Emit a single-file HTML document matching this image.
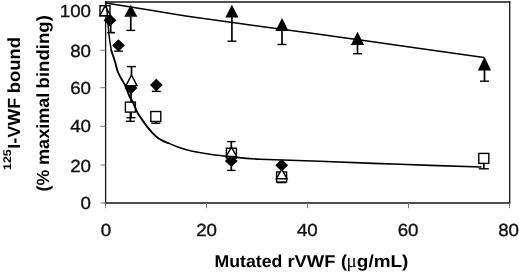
<!DOCTYPE html>
<html lang="en">
<head>
<meta charset="utf-8">
<title>Figure</title>
<style>
html,body{margin:0;padding:0;background:#fff;}
body{width:520px;height:272px;overflow:hidden;}
svg{display:block;}
</style>
</head>
<body>
<svg width="520" height="272" viewBox="0 0 520 272">
<rect width="520" height="272" fill="#fff"/>
<g fill="none" stroke="#151515">
<line x1="104.9" y1="2.0" x2="510.3" y2="2.0" stroke-width="1.6"/>
<line x1="104.9" y1="203.0" x2="510.3" y2="203.0" stroke-width="1.35"/>
<line x1="105.6" y1="1.2" x2="105.6" y2="203.7" stroke-width="1.3"/>
<line x1="509.7" y1="1.2" x2="509.7" y2="203.7" stroke-width="1.3"/>
</g>
<g fill="none" stroke="#777" stroke-width="1">
<line x1="100.3" y1="203.0" x2="105.5" y2="203.0"/>
<line x1="100.3" y1="165.0" x2="105.5" y2="165.0"/>
<line x1="100.3" y1="126.3" x2="105.5" y2="126.3"/>
<line x1="100.3" y1="87.7" x2="105.5" y2="87.7"/>
<line x1="100.3" y1="50.2" x2="105.5" y2="50.2"/>
<line x1="100.3" y1="11.0" x2="105.5" y2="11.0"/>
<line x1="105.5" y1="203.0" x2="105.5" y2="208.2"/>
<line x1="206.5" y1="203.0" x2="206.5" y2="208.2"/>
<line x1="307.5" y1="203.0" x2="307.5" y2="208.2"/>
<line x1="408.5" y1="203.0" x2="408.5" y2="208.2"/>
<line x1="509.5" y1="203.0" x2="509.5" y2="208.2"/>
</g>
<path stroke="#000" stroke-width="1.7" fill="none" d="M130.8 16.4 V30.4"/>
<path stroke="#000" stroke-width="1.4" fill="none" d="M126.3 30.4 H135.3"/>
<path stroke="#000" stroke-width="1.7" fill="none" d="M231.9 17.0 V41.2"/>
<path stroke="#000" stroke-width="1.4" fill="none" d="M227.4 41.2 H236.4"/>
<path stroke="#000" stroke-width="1.7" fill="none" d="M282.0 30.7 V44.5"/>
<path stroke="#000" stroke-width="1.4" fill="none" d="M277.5 44.5 H286.5"/>
<path stroke="#000" stroke-width="1.7" fill="none" d="M357.5 44.5 V53.7"/>
<path stroke="#000" stroke-width="1.4" fill="none" d="M353.0 53.7 H362.0"/>
<path stroke="#000" stroke-width="1.7" fill="none" d="M484.5 70.0 V81.2"/>
<path stroke="#000" stroke-width="1.4" fill="none" d="M480.0 81.2 H489.0"/>
<path d="M130.8 4.7 L137.4 16.8 L124.2 16.8 Z" fill="#000"/>
<path d="M231.9 4.8 L238.5 17.4 L225.3 17.4 Z" fill="#000"/>
<path d="M282.0 18.0 L288.6 31.1 L275.4 31.1 Z" fill="#000"/>
<path d="M357.5 31.8 L364.1 44.9 L350.9 44.9 Z" fill="#000"/>
<path d="M484.5 56.8 L491.1 70.4 L477.9 70.4 Z" fill="#000"/>
<path stroke="#000" stroke-width="1.7" fill="none" d="M110.7 24.0 V32.6"/>
<path stroke="#000" stroke-width="1.4" fill="none" d="M107.2 32.6 H114.2"/>
<path stroke="#000" stroke-width="1.4" d="M111 32.6H115"/>
<path stroke="#000" stroke-width="1.7" fill="none" d="M118.5 48.0 V51.1"/>
<path stroke="#000" stroke-width="1.4" fill="none" d="M114.2 51.1 H122.8"/>
<path stroke="#000" stroke-width="1.7" fill="none" d="M131.0 90.0 V117.7"/>
<path stroke="#000" stroke-width="1.4" fill="none" d="M126.5 117.7 H135.5"/>
<path stroke="#000" stroke-width="1.7" fill="none" d="M156.3 88.0 V91.4"/>
<path stroke="#000" stroke-width="1.4" fill="none" d="M151.8 91.4 H160.8"/>
<path stroke="#000" stroke-width="1.7" fill="none" d="M231.3 165.0 V170.4"/>
<path stroke="#000" stroke-width="1.4" fill="none" d="M227.1 170.4 H235.6"/>
<path d="M110.0 14.1 L116.4 20.3 L110.0 26.5 L103.6 20.3 Z" fill="#000"/>
<path d="M118.5 39.2 L124.9 45.4 L118.5 51.6 L112.1 45.4 Z" fill="#000"/>
<path d="M131.0 81.8 L137.4 88.0 L131.0 94.2 L124.6 88.0 Z" fill="#000"/>
<path d="M156.3 78.8 L162.7 85.0 L156.3 91.2 L149.9 85.0 Z" fill="#000"/>
<path d="M231.3 154.7 L237.7 160.9 L231.3 167.1 L224.9 160.9 Z" fill="#000"/>
<path d="M281.7 159.0 L288.1 165.2 L281.7 171.4 L275.3 165.2 Z" fill="#000"/>
<path stroke="#000" stroke-width="1.7" fill="none" d="M130.4 112.0 V121.3"/>
<path stroke="#000" stroke-width="1.4" fill="none" d="M125.9 121.3 H134.9"/>
<path stroke="#000" stroke-width="1.7" fill="none" d="M155.8 121.0 V123.3"/>
<path stroke="#000" stroke-width="1.4" fill="none" d="M151.3 123.3 H160.3"/>
<path stroke="#000" stroke-width="1.7" fill="none" d="M281.6 181.0 V182.6"/>
<path stroke="#000" stroke-width="1.4" fill="none" d="M277.1 182.6 H286.1"/>
<path stroke="#000" stroke-width="1.7" fill="none" d="M483.8 163.0 V168.8"/>
<path stroke="#000" stroke-width="1.4" fill="none" d="M478.8 168.8 H488.8"/>
<rect x="100.0" y="5.7" width="10.0" height="10.0" fill="#fff" stroke="#000" stroke-width="1.4"/>
<rect x="125.4" y="102.1" width="10.0" height="10.0" fill="#fff" stroke="#000" stroke-width="1.4"/>
<rect x="150.8" y="111.5" width="10.0" height="10.0" fill="#fff" stroke="#000" stroke-width="1.4"/>
<rect x="226.4" y="148.2" width="10.0" height="10.0" fill="#fff" stroke="#000" stroke-width="1.4"/>
<rect x="276.6" y="172.0" width="10.0" height="10.0" fill="#fff" stroke="#000" stroke-width="1.4"/>
<rect x="478.8" y="153.4" width="10.0" height="10.0" fill="#fff" stroke="#000" stroke-width="1.4"/>
<path stroke="#000" stroke-width="1.7" fill="none" d="M131.5 75.0 V66.6"/>
<path stroke="#000" stroke-width="1.4" fill="none" d="M127.0 66.6 H136.0"/>
<path stroke="#000" stroke-width="1.7" fill="none" d="M231.3 148.0 V141.6"/>
<path stroke="#000" stroke-width="1.4" fill="none" d="M227.1 141.6 H235.6"/>
<path d="M105.20 5.81 L110.66 15.82 L99.74 15.82 Z" fill="#fff" stroke="#000" stroke-width="1.4" stroke-linejoin="miter"/>
<path d="M131.50 74.90 L136.95 85.62 L126.05 85.62 Z" fill="#fff" stroke="#000" stroke-width="1.4" stroke-linejoin="miter"/>
<path d="M231.40 147.32 L236.87 156.53 L225.93 156.53 Z" fill="#fff" stroke="#000" stroke-width="1.4" stroke-linejoin="miter"/>
<path d="M281.70 169.44 L287.17 178.82 L276.23 178.82 Z" fill="#fff" stroke="#000" stroke-width="1.4" stroke-linejoin="miter"/>
<g fill="none" stroke="#000" stroke-linejoin="round">
<path stroke-width="1.45" stroke-linecap="round" d="M105.8 3.0 C106.0 4.8 106.9 10.2 107.3 14.0 C107.7 17.8 107.8 22.0 108.2 26.0 C108.6 30.0 108.9 34.0 109.4 38.0 C109.9 42.0 110.7 47.0 111.3 50.0"/>
<path stroke-width="1.9" stroke-linecap="round" d="M111.3 50.0 C111.9 53.0 112.6 54.0 113.2 56.0 C113.8 58.0 114.3 59.3 115.1 62.0 C115.9 64.7 116.8 69.2 117.9 72.0 C119.0 74.8 120.3 76.8 121.5 79.0 C122.7 81.2 123.9 82.7 125.2 85.5 C126.5 88.3 128.0 93.0 129.3 95.8 C130.6 98.5 131.5 99.3 132.8 102.0 C134.1 104.7 135.7 109.2 137.1 112.0 C138.5 114.8 139.8 116.2 141.4 118.6 C143.0 121.0 145.1 124.0 146.9 126.4 C148.7 128.8 150.6 130.9 152.4 132.8 C154.2 134.7 156.2 136.6 158.0 137.9 C159.8 139.2 161.3 140.0 163.0 140.8 C164.7 141.7 165.2 141.8 168.0 143.0"/>
<path stroke-width="1.6" stroke-linecap="round" d="M168.0 143.0 C170.8 144.2 175.9 146.4 180.0 147.8 C184.1 149.2 188.3 150.4 192.5 151.3 C196.7 152.2 200.8 152.8 205.0 153.5 C209.2 154.2 213.0 154.7 217.5 155.3 C222.0 155.9 224.9 156.2 232.0 156.9 C239.1 157.6 245.3 158.5 260.0 159.2 C274.7 159.9 296.7 160.5 320.0 161.3 C343.3 162.2 373.2 163.4 400.0 164.3 C426.8 165.2 467.5 166.6 481.0 167.0"/>
<path stroke-width="1.5" d="M105.7 3.0 C111.4 3.9 128.4 6.7 140.0 8.6 C151.6 10.5 165.0 12.6 175.0 14.2 C185.0 15.8 187.5 16.2 200.0 18.0 C212.5 19.8 231.7 22.5 250.0 25.0 C268.3 27.5 281.7 29.1 310.0 33.0 C338.3 36.9 391.0 44.5 420.0 48.6 C449.0 52.7 473.3 56.1 484.0 57.6"/>
</g>
<g font-family="'Liberation Sans', Arial, sans-serif" fill="#111" style="font-kerning:none;text-rendering:geometricPrecision">
<g font-size="17.5px" text-anchor="end" stroke="#111" stroke-width="0.35">
<text transform="translate(91.0,209.2) scale(1.070,1)">0</text>
<text transform="translate(91.0,171.9) scale(1.070,1)">20</text>
<text transform="translate(91.0,132.4) scale(1.070,1)">40</text>
<text transform="translate(91.0,93.9) scale(1.070,1)">60</text>
<text transform="translate(91.0,56.5) scale(1.070,1)">80</text>
<text transform="translate(91.0,17.2) scale(1.070,1)">100</text>
</g>
<g font-size="17.5px" text-anchor="middle" stroke="#111" stroke-width="0.35">
<text transform="translate(106.0,235.9) scale(1.070,1)">0</text>
<text transform="translate(206.6,235.9) scale(1.070,1)">20</text>
<text transform="translate(307.3,235.9) scale(1.070,1)">40</text>
<text transform="translate(408.1,235.9) scale(1.070,1)">60</text>
<text transform="translate(508.6,235.9) scale(1.070,1)">80</text>
</g>
<g fill="#000">
<text transform="translate(214.60,266.50) scale(1.065,1.030)" font-family="'Liberation Sans', sans-serif" font-weight="bold" font-size="16.6px">Mutated</text>
<text transform="translate(287.40,266.50) scale(1.109,1.030)" font-family="'Liberation Sans', sans-serif" font-weight="bold" font-size="16.6px">rVWF</text>
<text transform="translate(340.95,266.50) scale(1.081,1.030)" font-family="'Liberation Sans', sans-serif" font-weight="bold" font-size="16.6px">(</text>
<text transform="translate(346.62,266.50) scale(0.975,1.000)" font-family="'Liberation Serif', serif" font-weight="normal" font-size="19.5px">μ</text>
<text transform="translate(356.79,266.50) scale(1.143,1.030)" font-family="'Liberation Sans', sans-serif" font-weight="bold" font-size="16.6px">g/mL)</text>
<text transform="translate(10.50,169.93) rotate(-90) scale(1.167,1.060)" font-family="'Liberation Sans', sans-serif" font-weight="bold" font-size="10.5px">125</text>
<text transform="translate(20.30,148.72) rotate(-90) scale(1.083,1.060)" font-family="'Liberation Sans', sans-serif" font-weight="bold" font-size="16.6px">I-VWF</text>
<text transform="translate(20.30,93.25) rotate(-90) scale(1.109,1.060)" font-family="'Liberation Sans', sans-serif" font-weight="bold" font-size="16.6px">bound</text>
<text transform="translate(48.60,191.43) rotate(-90) scale(1.068,1.060)" font-family="'Liberation Sans', sans-serif" font-weight="bold" font-size="16.6px">(%</text>
<text transform="translate(48.60,164.92) rotate(-90) scale(1.087,1.060)" font-family="'Liberation Sans', sans-serif" font-weight="bold" font-size="16.6px">maximal</text>
<text transform="translate(48.60,88.46) rotate(-90) scale(1.120,1.060)" font-family="'Liberation Sans', sans-serif" font-weight="bold" font-size="16.6px">binding)</text>
</g>
</g>
</svg>
</body>
</html>
